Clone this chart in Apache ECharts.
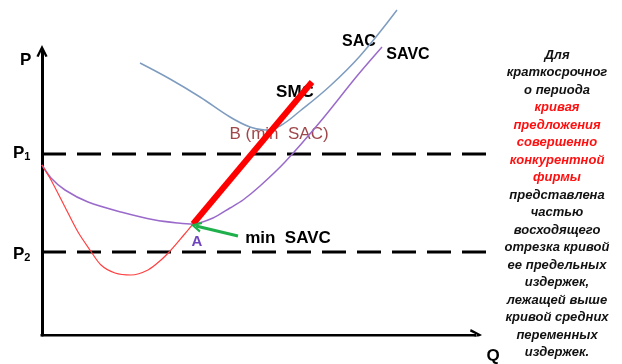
<!DOCTYPE html>
<html><head><meta charset="utf-8">
<script src="https://cdn.jsdelivr.net/npm/echarts@6/dist/echarts.min.js"></script>
<style>html,body{margin:0;padding:0;background:#fff}#c{width:622px;height:364px}</style>
</head><body><div id="c"></div>
<script>
// Short-run cost curves of a perfectly competitive firm (Q across, P up, arbitrary units).
const sacCurve = [[9.8,27.2],[12.8,25.6],[15.8,23.8],[18.8,21.8],[20.8,20.8],[22.3,20.5],[23.8,20.9],[25.8,22.4],[28.8,24.9],[31.8,27.9],[35.5,32.5]];
const savcCurve = [[0,17],[0.9,15.7],[2.3,14.5],[4.6,13.3],[7.9,12.3],[11.3,11.5],[13.6,11.2],[15.1,11.1],[17.1,11.7],[18.8,12.7],[20.1,13.5],[21.8,14.9],[24.3,17.3],[27.8,21.3],[31.5,25.9],[34.0,28.8]];
const smcFalling = [[0,17],[0.9,15.5],[2.3,12.8],[3.6,10.3],[4.8,8.5],[5.9,7.0],[7.3,6.2],[8.9,6.0],[10.6,6.5],[11.9,7.5],[12.9,8.5],[14.1,9.9],[15.1,11.1]];
const smcSupply = [[15.1,11.1],[27.0,25.3]];
const priceLevels = [18.1, 8.3];
const priceNames = ['1', '2'];
const dashEndQ = 44.9;
const pointerFrom = [19.6, 9.9];
const pointerTo = [15.4, 10.9];

const noteLines = [
  ['Для', 0], ['краткосрочног', 0], ['о периода', 0],
  ['кривая', 1], ['предложения', 1], ['совершенно', 1], ['конкурентной', 1], ['фирмы', 1],
  ['представлена', 0], ['частью', 0], ['восходящего', 0], ['отрезка кривой', 0],
  ['ее предельных', 0], ['издержек,', 0], ['лежащей выше', 0], ['кривой средних', 0],
  ['переменных', 0], ['издержек.', 0]
];

const chevron = 'path://M0,12 L6,0 L12,12 L9.6,12.8 L6,5 L2.4,12.8 Z';
const FONT = '"Liberation Sans", Arial, sans-serif';

const chart = echarts.init(document.getElementById('c'), null, {renderer: 'canvas'});

// The Q axis is drawn by a series so the price dashes can run a little past its arrow.
const priceSeries = priceLevels.map((p) => ({
  type: 'line', data: [[0, p], [dashEndQ, p]], showSymbol: false, silent: true, clip: false,
  lineStyle: {color: '#000', width: 3, type: [24, 11]}, z: 1
}));

const texts = [];
texts.push({type: 'text', left: 20, top: 52, style: {text: 'P', font: 'bold 17px ' + FONT, fill: '#000'}});
priceLevels.forEach((p, i) => {
  texts.push({type: 'text', left: 13, top: (i === 0 ? 145 : 246), style: {
    text: '{p|P}{s|' + priceNames[i] + '}',
    rich: {p: {font: 'bold 17px ' + FONT, fill: '#000'}, s: {font: 'bold 11px ' + FONT, fill: '#000', padding: [6, 0, 0, 0]}}
  }});
});
const labels = [
  ['SAC', 359, 42, 'bold 16px', '#000'],
  ['SAVC', 408, 55, 'bold 16px', '#000'],
  ['SMC', 295, 92, 'bold 17px', '#000'],
  ['B (min  SAC)', 279, 134, '17px', '#a0474b'],
  ['min  SAVC', 288, 238, 'bold 17px', '#000'],
  ['A', 197, 242, 'bold 15px', '#6f45bd'],
  ['Q', 493, 356, 'bold 17px', '#000']
];
labels.forEach(([t, x, y, f, c]) => {
  texts.push({type: 'text', x: x, y: y, style: {text: t, font: f + ' ' + FONT, fill: c, align: 'center', verticalAlign: 'middle'}});
});
noteLines.forEach(([t, red], i) => {
  texts.push({type: 'text', x: 557, y: 55 + i * 17.5, style: {
    text: t, font: 'italic bold 13px ' + FONT, fill: red ? '#ff1010' : '#111', align: 'center', verticalAlign: 'middle'
  }});
});

chart.setOption({
  animation: false,
  backgroundColor: '#fff',
  grid: {left: 42, top: 51, right: 130, bottom: 29},
  xAxis: {
    type: 'value', min: 0, max: 45,
    axisLine: {show: false},
    axisTick: {show: false}, axisLabel: {show: false}, splitLine: {show: false}
  },
  yAxis: {
    type: 'value', min: 0, max: 28.4,
    axisLine: {show: true, onZero: false, symbol: ['none', chevron], symbolSize: [14, 12], lineStyle: {color: '#000', width: 3}},
    axisTick: {show: false}, axisLabel: {show: false}, splitLine: {show: false}
  },
  series: [
    ...priceSeries,
    {type: 'lines', coordinateSystem: 'cartesian2d', silent: true, z: 7,
      symbol: ['none', chevron], symbolSize: [14, 12],
      lineStyle: {color: '#000', width: 3, opacity: 1},
      data: [{coords: [[-0.15, 0], [43.4, 0]]}]},
    {type: 'line', name: 'SAC', data: sacCurve, smooth: 0.4, showSymbol: false, clip: false,
      lineStyle: {color: '#7e9cbf', width: 1.5}, z: 2},
    {type: 'line', name: 'SAVC', data: savcCurve, smooth: 0.3, showSymbol: false, clip: false,
      lineStyle: {color: '#9a6acb', width: 1.5}, z: 3},
    {type: 'line', name: 'SMC', data: smcFalling, smooth: 0.3, showSymbol: false, clip: false,
      lineStyle: {color: '#ff4040', width: 1.2}, z: 4},
    {type: 'line', name: 'SMC supply', data: smcSupply, showSymbol: false, clip: false,
      lineStyle: {color: '#ff0000', width: 6, cap: 'butt'}, z: 5},
    {type: 'lines', coordinateSystem: 'cartesian2d', silent: true, z: 6,
      symbol: ['none', chevron], symbolSize: 11,
      lineStyle: {color: '#1fb04c', width: 3, opacity: 1},
      data: [{coords: [pointerFrom, pointerTo]}]}
  ],
  graphic: texts
});
</script></body></html>
